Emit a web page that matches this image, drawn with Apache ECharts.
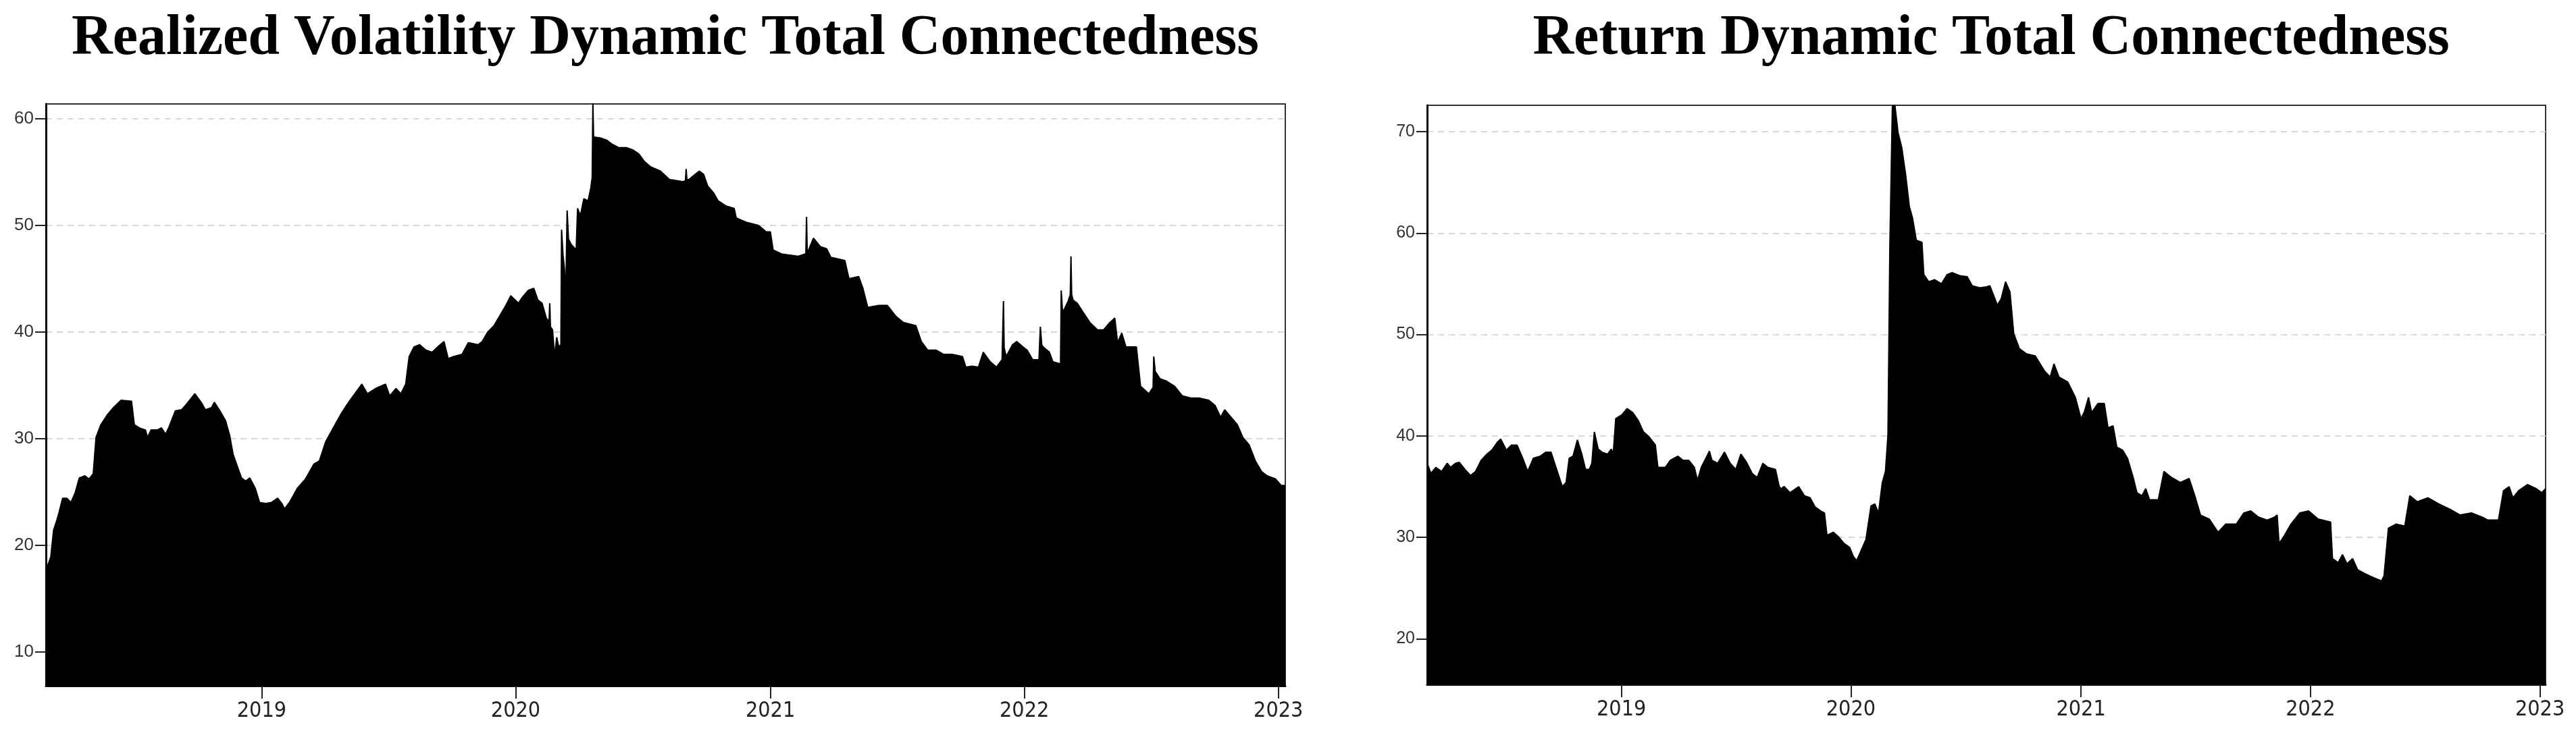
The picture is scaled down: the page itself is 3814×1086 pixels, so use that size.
<!DOCTYPE html>
<html>
<head>
<meta charset="utf-8">
<script src="https://cdn.jsdelivr.net/npm/echarts@6/dist/echarts.min.js"></script>
<style>
  html, body { margin: 0; padding: 0; background: #fff; }
  #chart { width: 3814px; height: 1086px; }
</style>
</head>
<body>
<div id="chart"></div>
<script>
// 年份刻度
const yearTicks = [2019, 2020, 2021, 2022, 2023];
const rvTicks = [10, 20, 30, 40, 50, 60];
const retTicks = [20, 30, 40, 50, 60, 70];

// Realized Volatility Dynamic Total Connectedness
const rvDates = [
  '2018-02-25','2018-03-04','2018-03-08','2018-03-13','2018-03-16','2018-03-21','2018-03-27','2018-04-02','2018-04-08','2018-04-14',
  '2018-04-22','2018-04-28','2018-05-04','2018-05-08','2018-05-15','2018-05-24','2018-06-02','2018-06-13','2018-06-28','2018-07-02',
  '2018-07-09','2018-07-18','2018-07-21','2018-07-26','2018-08-04','2018-08-10','2018-08-16','2018-08-21','2018-08-30','2018-09-08',
  '2018-09-16','2018-09-27','2018-10-07','2018-10-12','2018-10-21','2018-10-25','2018-11-01','2018-11-10','2018-11-16','2018-11-21',
  '2018-11-27','2018-12-03','2018-12-09','2018-12-15','2018-12-23','2018-12-29','2019-01-07','2019-01-15','2019-01-24','2019-01-30',
  '2019-02-03','2019-02-10','2019-02-21','2019-03-05','2019-03-17','2019-03-25','2019-04-03','2019-04-14','2019-04-26','2019-05-07',
  '2019-05-16','2019-05-25','2019-06-02','2019-06-14','2019-06-28','2019-07-04','2019-07-13','2019-07-20','2019-07-27','2019-08-01',
  '2019-08-08','2019-08-16','2019-08-25','2019-09-03','2019-09-11','2019-09-20','2019-09-26','2019-10-04','2019-10-16','2019-10-25',
  '2019-11-08','2019-11-14','2019-11-22','2019-12-01','2019-12-10','2019-12-18','2019-12-25','2020-01-05','2020-01-10','2020-01-19',
  '2020-01-27','2020-02-02','2020-02-08','2020-02-14','2020-02-18','2020-02-19','2020-02-20','2020-02-23','2020-02-26','2020-02-29',
  '2020-03-03','2020-03-06','2020-03-07','2020-03-09','2020-03-11','2020-03-13','2020-03-15','2020-03-17','2020-03-21','2020-03-28',
  '2020-03-30','2020-04-03','2020-04-08','2020-04-14','2020-04-18','2020-04-20','2020-04-21','2020-04-22','2020-05-02','2020-05-11',
  '2020-05-19','2020-05-28','2020-06-08','2020-06-17','2020-06-26','2020-07-04','2020-07-13','2020-07-27','2020-08-09','2020-08-29',
  '2020-09-01','2020-09-02','2020-09-03','2020-09-06','2020-09-15','2020-09-21','2020-09-27','2020-10-03','2020-10-12','2020-10-18',
  '2020-10-30','2020-11-10','2020-11-13','2020-11-27','2020-12-15','2020-12-26','2021-01-01','2021-01-05','2021-01-18','2021-02-10',
  '2021-02-19','2021-02-21','2021-02-22','2021-02-23','2021-02-25','2021-03-04','2021-03-14','2021-03-23','2021-03-29','2021-04-18',
  '2021-04-24','2021-05-08','2021-05-14','2021-05-21','2021-06-06','2021-06-18','2021-06-30','2021-07-11','2021-07-29','2021-08-06',
  '2021-08-15','2021-08-27','2021-09-07','2021-09-19','2021-10-04','2021-10-09','2021-10-18','2021-10-27','2021-11-03','2021-11-13',
  '2021-11-22','2021-11-30','2021-12-02','2021-12-03','2021-12-06','2021-12-15','2021-12-21','2021-12-30','2022-01-05','2022-01-13',
  '2022-01-22','2022-01-24','2022-01-26','2022-01-28','2022-02-06','2022-02-11','2022-02-22','2022-02-23','2022-02-25','2022-03-05',
  '2022-03-08','2022-03-09','2022-03-10','2022-03-12','2022-03-18','2022-03-27','2022-04-05','2022-04-16','2022-04-25','2022-05-04',
  '2022-05-11','2022-05-15','2022-05-21','2022-05-27','2022-06-11','2022-06-17','2022-06-29','2022-07-05','2022-07-06','2022-07-08',
  '2022-07-15','2022-07-24','2022-08-05','2022-08-16','2022-08-28','2022-09-09','2022-09-23','2022-10-02','2022-10-10','2022-10-16',
  '2022-10-25','2022-11-03','2022-11-11','2022-11-20','2022-11-29','2022-12-08','2022-12-16','2022-12-28','2023-01-05','2023-01-11'
];
const rvValues = [
  17.6,18.9,21.4,22.4,23.1,24.4,24.4,24.0,24.9,26.3,
  26.5,26.2,26.7,30.1,31.3,32.2,32.9,33.6,33.5,31.3,
  31.0,30.8,30.1,30.8,30.8,31.0,30.4,31.1,32.6,32.7,
  33.3,34.2,33.3,32.7,32.9,33.4,32.7,31.7,30.3,28.5,
  27.4,26.3,26.0,26.3,25.3,24.0,23.9,24.0,24.4,23.9,
  23.4,24.0,25.3,26.2,27.6,27.9,29.7,31.0,32.4,33.5,
  34.3,35.1,34.2,34.7,35.1,34.0,34.7,34.2,35.1,37.7,
  38.6,38.8,38.3,38.1,38.6,39.1,37.5,37.7,37.9,39.0,
  38.8,39.1,40.0,40.6,41.6,42.5,43.4,42.7,43.2,43.9,
  44.1,43.0,42.7,41.3,41.0,42.7,40.5,40.2,37.7,39.5,
  38.6,38.8,49.6,47.3,46.0,43.4,51.4,48.7,48.2,47.7,
  51.6,50.9,52.5,52.3,53.5,54.5,61.5,58.3,58.2,58.0,
  57.6,57.3,57.3,57.1,56.7,56.0,55.5,55.1,54.3,54.1,
  54.2,55.3,54.3,54.3,54.8,55.1,54.8,53.7,53.0,52.3,
  51.8,51.6,50.7,50.3,50.0,49.4,49.4,47.7,47.3,47.1,
  47.3,47.3,50.8,47.5,47.7,48.8,48.0,47.8,47.0,46.7,
  45.0,45.2,44.1,42.3,42.5,42.5,41.5,40.9,40.6,39.1,
  38.3,38.3,37.9,37.9,37.7,36.7,36.8,36.7,38.1,37.2,
  36.7,37.4,42.9,38.5,37.7,38.8,39.1,38.6,38.3,37.4,
  37.4,40.5,38.8,38.6,38.1,37.2,37.0,43.9,41.8,42.9,
  43.5,47.1,43.5,43.0,42.7,41.8,40.9,40.2,40.2,40.9,
  41.3,39.0,39.9,38.6,38.6,34.9,34.2,34.8,37.7,36.3,
  35.6,35.4,34.9,34.0,33.8,33.8,33.6,33.1,32.0,32.7,
  32.0,31.3,30.1,29.4,27.9,26.9,26.5,26.2,25.6,25.6
];

// Return Dynamic Total Connectedness
const retDates = [
  '2018-02-26','2018-03-04','2018-03-12','2018-03-21','2018-03-30','2018-04-04','2018-04-12','2018-04-18','2018-04-27','2018-05-06',
  '2018-05-14','2018-05-23','2018-06-01','2018-06-09','2018-06-18','2018-06-23','2018-07-02','2018-07-10','2018-07-19','2018-07-28',
  '2018-08-05','2018-08-14','2018-08-25','2018-09-03','2018-09-11','2018-09-20','2018-09-29','2018-10-05','2018-10-10','2018-10-16',
  '2018-10-23','2018-10-30','2018-11-05','2018-11-11','2018-11-15','2018-11-19','2018-11-25','2018-12-01','2018-12-10','2018-12-16',
  '2018-12-19','2018-12-23','2019-01-02','2019-01-10','2019-01-19','2019-01-28','2019-02-05','2019-02-14','2019-02-24','2019-02-28',
  '2019-03-12','2019-03-20','2019-04-01','2019-04-09','2019-04-18','2019-04-27','2019-05-02','2019-05-08','2019-05-17','2019-05-21',
  '2019-05-25','2019-06-03','2019-06-14','2019-06-23','2019-07-02','2019-07-10','2019-07-19','2019-07-28','2019-08-05','2019-08-14',
  '2019-08-22','2019-09-03','2019-09-09','2019-09-12','2019-09-13','2019-09-14','2019-09-17','2019-09-26','2019-10-10','2019-10-19',
  '2019-10-28','2019-11-05','2019-11-14','2019-11-20','2019-11-24','2019-12-04','2019-12-13','2019-12-21','2019-12-30','2020-01-05',
  '2020-01-10','2020-01-16','2020-01-25','2020-02-02','2020-02-08','2020-02-14','2020-02-20','2020-02-25','2020-02-29','2020-03-03',
  '2020-03-07','2020-03-11','2020-03-16','2020-03-22','2020-03-28','2020-04-03','2020-04-08','2020-04-14','2020-04-23','2020-04-26',
  '2020-05-04','2020-05-13','2020-05-24','2020-06-02','2020-06-10','2020-06-22','2020-07-04','2020-07-12','2020-07-24','2020-08-04',
  '2020-08-09','2020-08-21','2020-08-27','2020-09-03','2020-09-10','2020-09-16','2020-09-25','2020-10-06','2020-10-20','2020-11-04',
  '2020-11-13','2020-11-19','2020-11-27','2020-12-11','2020-12-23','2021-01-01','2021-01-06','2021-01-13','2021-01-18','2021-01-28',
  '2021-02-07','2021-02-13','2021-02-21','2021-02-27','2021-03-08','2021-03-16','2021-03-25','2021-03-31','2021-04-08','2021-04-14',
  '2021-04-20','2021-05-04','2021-05-13','2021-05-25','2021-06-08','2021-06-22','2021-07-01','2021-07-10','2021-07-24','2021-08-07',
  '2021-08-19','2021-09-05','2021-09-17','2021-09-28','2021-10-10','2021-10-24','2021-11-05','2021-11-09','2021-11-12','2021-11-19',
  '2021-12-01','2021-12-15','2021-12-29','2022-01-13','2022-02-02','2022-02-05','2022-02-14','2022-02-21','2022-02-28','2022-03-09',
  '2022-03-17','2022-03-29','2022-04-12','2022-04-24','2022-04-28','2022-05-05','2022-05-17','2022-05-31','2022-06-08','2022-06-20',
  '2022-07-07','2022-07-24','2022-08-10','2022-08-27','2022-09-14','2022-10-01','2022-10-10','2022-10-27','2022-11-04','2022-11-13',
  '2022-11-19','2022-11-28','2022-12-12','2022-12-26','2023-01-04','2023-01-10'
];
const retValues = [
  37.3,36.3,36.9,36.5,37.3,36.9,37.3,37.4,36.7,36.1,
  36.5,37.6,38.2,38.6,39.4,39.7,38.6,39.1,39.1,37.8,
  36.5,37.8,38.0,38.4,38.4,36.7,35.0,35.4,37.8,38.0,
  39.6,38.2,36.7,36.7,37.3,40.4,38.7,38.4,38.2,38.7,
  38.2,41.7,42.1,42.7,42.3,41.5,40.4,39.9,39.1,36.9,
  36.9,37.6,38.0,37.6,37.6,36.9,35.6,36.9,38.0,38.5,
  37.6,37.3,38.4,37.3,36.7,38.2,37.4,36.3,35.9,37.3,
  36.9,36.7,35.0,34.8,32.4,34.9,35.0,34.4,35.0,34.1,
  33.9,33.0,32.6,32.4,30.2,30.5,30.0,29.4,29.0,28.1,
  27.7,28.5,29.8,33.1,33.3,32.4,35.4,36.5,40.1,58.7,
  72.5,72.6,69.9,68.4,65.8,62.6,61.5,59.3,59.1,55.9,
  55.2,55.4,55.0,55.9,56.1,55.8,55.7,54.8,54.6,54.7,
  54.8,52.9,53.5,55.2,54.2,50.1,48.6,48.1,47.9,46.4,
  45.8,47.1,45.8,45.3,43.8,41.7,42.3,43.8,42.3,43.2,
  43.2,40.8,41.0,38.9,38.6,37.8,35.9,34.4,34.1,34.8,
  33.7,33.7,36.5,35.9,35.4,35.8,34.1,32.2,31.8,30.5,
  31.3,31.3,32.4,32.6,32.0,31.7,32.0,32.2,29.4,30.0,
  31.3,32.4,32.6,31.8,31.5,27.9,27.5,28.3,27.4,27.9,
  26.8,26.4,26.0,25.7,26.2,30.9,31.3,31.1,34.1,33.5,
  33.9,33.3,32.8,32.2,32.4,32.0,31.7,31.7,34.6,35.0,
  33.9,34.6,35.2,34.8,34.4,34.8
];

const chart = echarts.init(document.getElementById('chart'));

// 日期字符串 -> 时间戳
function toTime(s) {
  const p = s.split('-').map(Number);
  return new Date(p[0], p[1] - 1, p[2]).getTime();
}
const yearValues = yearTicks.map(y => new Date(y, 0, 1).getTime());

function pairs(dates, values) {
  return dates.map((d, i) => [toTime(d), values[i]]);
}

function makeX(gridIndex, min, max) {
  return {
    type: 'value',
    gridIndex: gridIndex,
    min: toTime(min),
    max: toTime(max),
    axisLine: { show: true, lineStyle: { color: '#000', width: 3 } },
    axisTick: {
      show: true, length: 19, customValues: yearValues,
      lineStyle: { color: '#222', width: 2 }
    },
    axisLabel: {
      customValues: yearValues,
      margin: 22,
      fontFamily: '"Liberation Sans Narrow", "DejaVu Sans Condensed", sans-serif',
      fontSize: 32,
      color: '#222',
      formatter: (v) => String(new Date(v).getFullYear())
    },
    splitLine: { show: false }
  };
}

function makeY(gridIndex, min, max, ticks, fontSize) {
  return {
    type: 'value',
    gridIndex: gridIndex,
    min: min,
    max: max,
    axisLine: { show: true, lineStyle: { color: '#000', width: 3 } },
    axisTick: {
      show: true, length: 16, customValues: ticks,
      lineStyle: { color: '#222', width: 2 }
    },
    axisLabel: {
      customValues: ticks,
      margin: 18,
      fontFamily: '"Liberation Sans", Arial, sans-serif',
      fontSize: fontSize,
      color: '#333'
    },
    splitLine: {
      show: true,
      lineStyle: { color: '#d8d8d8', width: 2, type: [9, 7] }
    }
  };
}

function areaSeries(idx, data) {
  return {
    type: 'line',
    xAxisIndex: idx,
    yAxisIndex: idx,
    data: data,
    showSymbol: false,
    symbol: 'none',
    smooth: false,
    lineStyle: { color: '#000', width: 2 },
    areaStyle: { color: '#000', opacity: 1, origin: 'start' },
    z: 3
  };
}

const titleStyle = {
  fontFamily: '"Liberation Serif", "Times New Roman", serif',
  fontWeight: 'bold',
  fontSize: 84,
  color: '#000'
};

const option = {
  animation: false,
  backgroundColor: '#fff',
  title: [
    { text: 'Realized Volatility Dynamic Total Connectedness', left: 980, top: 11, textAlign: 'center', textStyle: titleStyle },
    { text: 'Return Dynamic Total Connectedness', left: 2943, top: 11, textAlign: 'center', textStyle: titleStyle }
  ],
  grid: [
    { left: 68, right: 1911, top: 154, bottom: 70, show: true, borderColor: '#333', borderWidth: 2, backgroundColor: 'transparent' },
    { left: 2113, right: 45, top: 156, bottom: 72, show: true, borderColor: '#333', borderWidth: 2, backgroundColor: 'transparent' }
  ],
  xAxis: [
    makeX(0, '2018-02-25', '2023-01-11'),
    makeX(1, '2018-02-26', '2023-01-10')
  ],
  yAxis: [
    makeY(0, 6.8, 61.4, rvTicks, 26),
    makeY(1, 15.5, 72.6, retTicks, 25)
  ],
  series: [
    areaSeries(0, pairs(rvDates, rvValues)),
    areaSeries(1, pairs(retDates, retValues))
  ]
};

chart.setOption(option);
</script>
</body>
</html>
